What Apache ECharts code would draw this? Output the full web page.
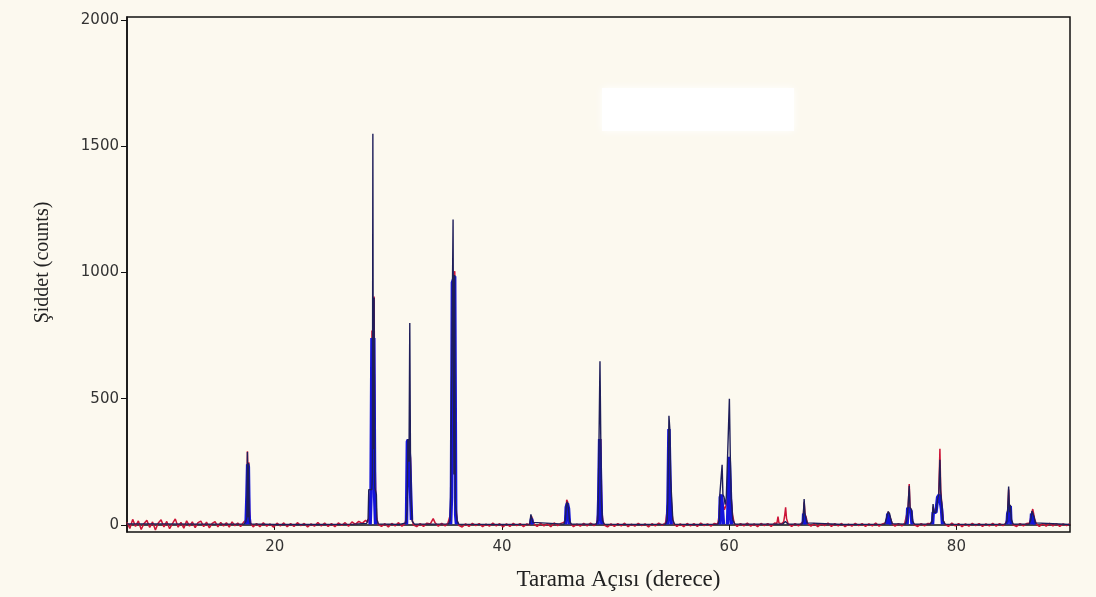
<!DOCTYPE html>
<html>
<head>
<meta charset="utf-8">
<script src="https://cdn.jsdelivr.net/npm/echarts@6/dist/echarts.min.js"></script>
<style>
  html, body { margin: 0; padding: 0; background: #fcf9ef; }
  #chart { width: 1096px; height: 597px; }
</style>
</head>
<body>
<div id="chart"></div>
<script>
// tick labels
const xTicks = [20, 40, 60, 80]
const yTicks = [0, 500, 1000, 1500, 2000]

// observed pattern (red), [2theta, counts]
const obsCounts = [
  [7.0,10],[7.25,-14],[7.5,22],[7.75,-6],[8.0,16],[8.25,-18],[8.5,6],[8.75,18],[9.0,-10],[9.25,12],[9.5,-20],[9.75,8],
  [10.0,20],[10.25,-8],[10.5,14],[10.75,-15],[11.0,5],[11.25,24],[11.5,-9],[11.75,10],[12.0,-13],[12.25,16],[12.5,-5],
  [12.75,12],[13.0,-11],[13.25,9],[13.5,15],[13.75,-7],[14.0,11],[14.25,-12],[14.5,6],[14.75,13],[15.0,-8],[15.25,10],
  [15.5,-4],[15.75,9],[16.0,-9],[16.25,12],[16.5,-3],[16.75,8],[17.0,-6],[17.25,10],
  [17.45,18],[17.55,120],[17.6,292],[17.66,170],[17.72,248],[17.78,60],[17.88,8],
  [18.1,-8],[18.4,6],[18.7,-7],[19.0,9],[19.3,-5],[19.6,4],[19.9,-9],[20.2,7],[20.5,-4],[20.8,8],[21.1,-7],[21.4,5],
  [21.7,-6],[22.0,9],[22.3,-3],[22.6,6],[22.9,-8],[23.2,4],[23.5,-5],[23.8,10],[24.1,-4],[24.4,7],[24.7,-6],[25.0,5],
  [25.3,-7],[25.6,8],[25.9,-2],[26.2,9],[26.5,-5],[26.8,12],[27.1,2],[27.4,14],[27.7,6],[28.0,18],[28.2,10],
  [28.3,30],[28.42,125],[28.5,140],[28.56,770],[28.62,745],[28.68,700],[28.75,905],[28.82,280],[28.9,110],[28.98,30],[29.1,2],
  [29.4,-6],[29.7,5],[30.0,-8],[30.3,6],[30.6,-4],[30.9,9],[31.2,-5],[31.45,4],
  [31.6,30],[31.7,335],[31.78,330],[31.88,300],[31.95,265],[32.05,35],[32.2,0],
  [32.5,-7],[32.8,5],[33.1,-6],[33.4,7],[33.7,4],[33.95,25],[34.1,10],[34.4,-5],[34.7,6],[35.0,-4],[35.25,8],
  [35.45,40],[35.55,110],[35.65,900],[35.72,960],[35.85,1005],[35.95,80],[36.05,20],[36.2,-2],
  [36.5,-8],[36.8,4],[37.1,-6],[37.4,6],[37.7,-3],[38.0,5],[38.3,-7],[38.6,3],[38.9,-5],[39.2,7],[39.5,-4],[39.8,5],
  [40.1,-8],[40.4,4],[40.7,-6],[41.0,6],[41.3,-3],[41.6,5],[41.9,-7],[42.2,4],[42.45,0],
  [42.6,35],[42.7,20],[42.85,2],
  [43.1,-6],[43.4,6],[43.7,-4],[44.0,5],[44.3,-7],[44.6,8],[44.9,-3],[45.2,6],[45.45,10],
  [45.6,20],[45.7,100],[45.8,90],[45.9,35],[46.0,8],
  [46.3,-7],[46.6,3],[46.9,-5],[47.2,6],[47.5,-4],[47.8,7],[48.1,-3],[48.35,6],
  [48.48,60],[48.55,110],[48.62,330],[48.7,340],[48.78,60],[48.9,12],[49.05,-2],
  [49.3,-8],[49.6,4],[49.9,-6],[50.2,5],[50.5,-4],[50.8,7],[51.1,-7],[51.4,3],[51.7,-5],[52.0,6],[52.3,-3],[52.6,4],
  [52.9,-8],[53.2,5],[53.5,-4],[53.8,7],[54.1,-2],[54.4,8],
  [54.55,60],[54.62,95],[54.7,370],[54.78,365],[54.88,110],[54.98,40],[55.1,6],
  [55.4,-6],[55.7,4],[56.0,-7],[56.3,6],[56.6,-4],[56.9,5],[57.2,-6],[57.5,7],[57.8,-3],[58.1,4],[58.4,-5],[58.7,6],[59.0,3],
  [59.12,40],[59.2,105],[59.3,115],[59.38,118],[59.46,110],[59.58,60],[59.75,80],[59.88,105],[59.95,230],[60.02,265],
  [60.1,262],[60.2,90],[60.3,40],[60.45,6],
  [60.7,-6],[61.0,5],[61.3,-4],[61.6,7],[61.9,-5],[62.2,4],[62.5,-7],[62.8,6],[63.1,-3],[63.4,5],[63.7,-6],[64.0,8],
  [64.2,6],[64.3,33],[64.38,8],[64.6,4],[64.8,12],[64.9,42],[64.97,70],[65.05,25],[65.2,4],
  [65.5,-6],[65.8,5],[66.1,-4],[66.35,6],
  [66.5,15],[66.6,90],[66.68,42],[66.78,30],[66.9,6],
  [67.2,-5],[67.5,6],[67.8,-7],[68.1,4],[68.4,-3],[68.7,7],[69.0,-6],[69.3,5],[69.6,-4],[69.9,6],[70.2,-7],[70.5,3],
  [70.8,-5],[71.1,6],[71.4,-3],[71.7,5],[72.0,-6],[72.3,4],[72.6,-4],[72.9,7],[73.2,-5],[73.5,4],[73.75,8],
  [73.9,30],[74.0,52],[74.1,45],[74.2,25],[74.35,6],
  [74.6,-5],[74.9,5],[75.2,-4],[75.45,6],
  [75.62,12],[75.75,65],[75.85,162],[75.92,70],[76.05,55],[76.15,12],[76.3,0],
  [76.6,-6],[76.9,5],[77.2,-4],[77.5,6],[77.75,5],
  [77.88,20],[77.95,72],[78.05,45],[78.2,48],[78.32,92],[78.45,118],[78.55,302],[78.62,140],[78.72,80],[78.85,16],[79.0,2],
  [79.3,-6],[79.6,7],[79.9,-4],[80.2,5],[80.5,-7],[80.8,4],[81.1,-5],[81.4,6],[81.7,-3],[82.0,5],[82.3,-6],[82.6,4],
  [82.9,-4],[83.2,6],[83.5,-5],[83.8,5],[84.1,-3],[84.35,7],
  [84.5,30],[84.6,140],[84.68,55],[84.75,76],[84.85,15],[85.0,0],
  [85.3,-6],[85.6,5],[85.9,-4],[86.2,6],[86.45,8],
  [86.55,30],[86.65,50],[86.72,63],[86.8,45],[86.9,20],[87.05,4],
  [87.3,-6],[87.6,5],[87.9,-5],[88.2,6],[88.5,-4],[88.8,5],[89.1,-6],[89.4,4],[89.7,-3],[90.0,5]
]

// peak bodies (blue), '-' breaks the line between peaks
const peakCounts = [
  [17.48,2],[17.56,120],[17.62,240],[17.68,230],[17.74,40],[17.8,2],[17.9,'-'],
  [28.4,2],[28.48,130],[28.56,740],[28.64,720],[28.72,740],[28.8,110],[28.88,2],[29,'-'],
  [31.6,2],[31.68,330],[31.76,338],[31.86,275],[31.96,268],[32.04,20],[32.1,'-'],
  [35.48,2],[35.56,110],[35.64,960],[35.74,960],[35.84,985],[35.93,40],[36.0,2],[36.1,'-'],
  [42.55,2],[42.6,25],[42.66,25],[42.7,2],[42.8,'-'],
  [45.6,2],[45.66,70],[45.76,85],[45.86,65],[45.94,2],[46,'-'],
  [48.46,2],[48.52,100],[48.6,340],[48.68,345],[48.75,40],[48.8,2],[48.9,'-'],
  [54.56,2],[54.62,95],[54.7,380],[54.78,375],[54.85,40],[54.9,2],[55,'-'],
  [59.16,2],[59.22,110],[59.32,120],[59.44,115],[59.5,2],[59.6,'-'],
  [59.86,2],[59.92,110],[60.0,270],[60.12,270],[60.18,20],[60.22,2],[60.3,'-'],
  [66.52,2],[66.56,45],[66.7,45],[66.78,2],[66.9,'-'],
  [73.9,2],[73.96,45],[74.12,40],[74.24,2],[74.3,'-'],
  [75.66,2],[75.72,68],[75.86,68],[76.0,55],[76.1,2],[76.2,'-'],
  [77.9,2],[77.96,50],[78.2,50],[78.35,110],[78.5,120],[78.6,120],[78.7,60],[78.78,2],[78.9,'-'],
  [84.46,2],[84.52,45],[84.66,50],[84.74,75],[84.8,2],[84.9,'-'],
  [86.56,2],[86.62,45],[86.76,45],[86.9,2]
]

// calculated profile (dark thin line)
const calcCounts = [
  [7.0,4],[10,4],[14,3],[17.3,3],
  [17.45,12],[17.55,30],[17.6,289],[17.65,30],[17.7,245],[17.76,25],[17.85,4],
  [20,2],[24,2],[27,3],[28.1,6],
  [28.22,25],[28.28,140],[28.55,140],[28.6,200],[28.64,1550],[28.68,300],[28.75,900],[28.8,150],[28.95,120],[29.0,20],[29.12,4],
  [31.0,2],[31.55,8],[31.66,60],[31.72,340],[31.82,250],[31.89,800],[31.95,270],[32.02,80],[32.1,15],[32.3,3],
  [34,3],[35.3,4],[35.45,20],[35.48,112],[35.62,112],[35.7,1210],[35.77,200],[35.84,990],[35.9,85],[36.0,80],[36.06,15],[36.2,3],
  [40,2],[42.45,3],[42.52,10],[42.55,42],[42.68,42],[42.72,10],[42.85,3],
  [45.45,3],[45.58,20],[45.64,60],[45.72,92],[45.8,80],[45.86,60],[45.96,15],[46.1,3],
  [48.3,3],[48.44,20],[48.48,100],[48.56,105],[48.63,648],[48.7,345],[48.76,90],[48.85,18],[49.0,3],
  [52,2],[54.4,3],[54.55,20],[54.6,100],[54.7,432],[54.78,378],[54.85,182],[54.98,182],[55.04,20],[55.2,3],
  [57,2],[59.0,3],[59.14,20],[59.18,120],[59.3,125],[59.38,238],[59.45,120],[59.55,110],[59.65,80],[59.75,110],[59.9,115],
  [60.02,500],[60.1,273],[60.18,110],[60.26,110],[60.32,20],[60.5,3],
  [64.7,3],[64.95,14],[65.2,3],
  [66.4,3],[66.5,15],[66.6,103],[66.67,45],[66.75,40],[66.85,8],[67.0,3],
  [70,2],[73.7,3],[73.85,28],[74.0,53],[74.12,45],[74.22,25],[74.35,5],
  [75.5,3],[75.64,20],[75.74,70],[75.85,155],[75.92,70],[76.05,60],[76.14,15],[76.3,3],
  [77.7,3],[77.86,15],[77.95,83],[78.02,50],[78.2,50],[78.34,100],[78.45,120],[78.55,258],[78.62,130],[78.7,90],[78.8,20],[79.0,3],
  [82,2],[84.3,3],[84.45,15],[84.5,50],[84.6,152],[84.68,50],[84.75,80],[84.84,20],[85.0,3],
  [86.4,3],[86.55,20],[86.65,55],[86.75,50],[86.85,30],[86.95,8],[87.1,3],[90,2]
]

const chart = echarts.init(document.getElementById('chart'))

const option = {
  animation: false,
  backgroundColor: '#fcf9ef',
  grid: {
    left: 127,
    right: 26,
    top: 17,
    bottom: 65,
    show: true,
    borderColor: '#111',
    borderWidth: 1.5,
    backgroundColor: 'transparent'
  },
  xAxis: {
    type: 'value',
    min: 7,
    max: 90,
    name: 'Tarama Açısı (derece)',
    nameLocation: 'middle',
    nameGap: 36,
    nameTextStyle: { fontFamily: 'Liberation Serif', fontSize: 23, color: '#222', padding: [0, 0, 0, 40] },
    axisLine: { show: true, lineStyle: { color: '#111', width: 1.5 } },
    axisTick: { show: true, length: 5, customValues: xTicks, lineStyle: { color: '#111' } },
    axisLabel: {
      customValues: xTicks,
      margin: 8,
      fontFamily: 'DejaVu Sans',
      fontSize: 15,
      color: '#333',
      formatter: (v) => String(v)
    },
    splitLine: { show: false }
  },
  yAxis: {
    type: 'value',
    min: -28,
    max: 2012,
    name: 'Şiddet (counts)',
    nameLocation: 'middle',
    nameGap: 74,
    nameRotate: 90,
    nameTextStyle: { fontFamily: 'Liberation Serif', fontSize: 20, color: '#222', padding: [0, 0, 0, 24] },
    axisLine: { show: true, lineStyle: { color: '#111', width: 1.5 } },
    axisTick: { show: true, length: 6, customValues: yTicks, lineStyle: { color: '#111' } },
    axisLabel: {
      customValues: yTicks,
      margin: 8,
      fontFamily: 'DejaVu Sans',
      fontSize: 15,
      color: '#333',
      formatter: (v) => String(v)
    },
    splitLine: { show: false }
  },
  graphic: [
    {
      type: 'rect',
      shape: { x: 602, y: 88, width: 192, height: 43 },
      style: { fill: '#ffffff', shadowBlur: 8, shadowColor: '#ffffff' },
      z: 10
    }
  ],
  series: [
    {
      name: 'observed',
      type: 'line',
      data: obsCounts,
      symbol: 'none',
      lineStyle: { color: '#cc1437', width: 1.5 },
      z: 2
    },
    {
      name: 'peaks',
      type: 'line',
      data: peakCounts,
      symbol: 'none',
      connectNulls: false,
      lineStyle: { color: '#1414dc', width: 3.5 },
      z: 3
    },
    {
      name: 'calculated',
      type: 'line',
      data: calcCounts,
      symbol: 'none',
      lineStyle: { color: '#1e1e5a', width: 1.4 },
      z: 4
    }
  ]
}

chart.setOption(option)
</script>
</body>
</html>
